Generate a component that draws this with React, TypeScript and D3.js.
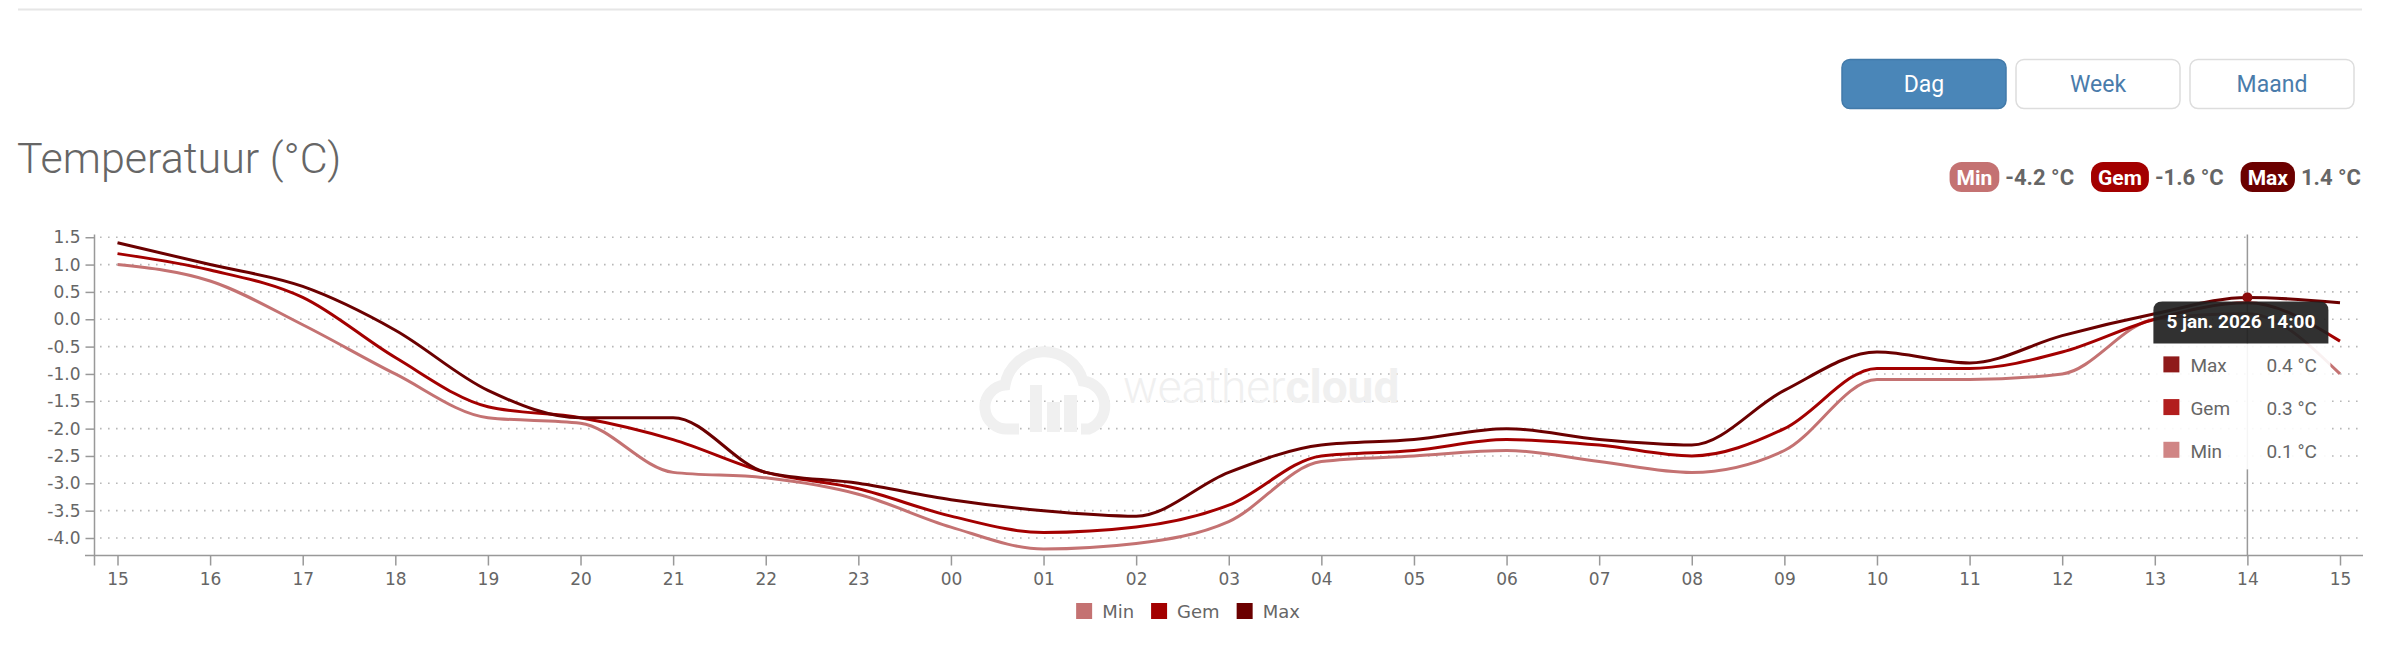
import React, { useEffect, useRef } from "react";
import * as d3 from "d3";

// hourly readings, 4 jan 15:00 -> 5 jan 15:00
const hourLabels = ["15", "16", "17", "18", "19", "20", "21", "22", "23", "00", "01", "02", "03", "04", "05", "06", "07", "08", "09", "10", "11", "12", "13", "14", "15"];
const minValues = [1.0, 0.7, -0.1, -1.0, -1.8, -1.9, -2.8, -2.9, -3.2, -3.8, -4.2, -4.1, -3.7, -2.6, -2.5, -2.4, -2.6, -2.8, -2.4, -1.1, -1.1, -1.0, 0.0, 0.1, -1.0];
const gemValues = [1.2, 0.9, 0.4, -0.7, -1.6, -1.8, -2.2, -2.8, -3.1, -3.6, -3.9, -3.8, -3.4, -2.5, -2.4, -2.2, -2.3, -2.5, -2.0, -0.9, -0.9, -0.6, 0.0, 0.3, -0.4];
const maxValues = [1.4, 1.0, 0.6, -0.2, -1.3, -1.8, -1.8, -2.8, -3.0, -3.3, -3.5, -3.6, -2.8, -2.3, -2.2, -2.0, -2.2, -2.3, -1.3, -0.6, -0.8, -0.3, 0.1, 0.4, 0.3];
const yTicks = [1.5, 1.0, 0.5, 0.0, -0.5, -1.0, -1.5, -2.0, -2.5, -3.0, -3.5, -4.0];

const seriesNames = ["Min", "Gem", "Max"];
const seriesColors = ["#c47272", "#a30000", "#6b0000"];
const tooltipColors = ["#d08585", "#b21e1e", "#8f1a1a"];
const summaryValues = [-4.2, -1.6, 1.4];
const rangeButtons = ["Dag", "Week", "Maand"];
const hoverIndex = 23;
const hoverLabel = "5 jan. 2026 14:00";

function TemperatuurChart() {
  const ref = useRef<SVGSVGElement>(null);

  useEffect(() => {
    const width = 2400;
    const height = 667;
    const plot = { left: 95, right: 2363, top: 234.5, bottom: 555.5 };
    const series = [minValues, gemValues, maxValues];

    const svg = d3.select(ref.current);
    svg.selectAll("*").remove();
    svg.attr("width", width).attr("height", height);

    const x = d3.scaleLinear().domain([0, hourLabels.length - 1]).range([117.5, 2340]);
    const y = d3.scaleLinear().domain([-4.32, 1.55]).range([plot.bottom, plot.top]);

    // top separator + title
    svg.append("line")
      .attr("x1", 18).attr("x2", 2362).attr("y1", 9.5).attr("y2", 9.5)
      .attr("stroke", "#e6e6e6").attr("stroke-width", 2);

    svg.append("text")
      .attr("x", 17).attr("y", 173)
      .attr("font-family", "Roboto").attr("font-weight", 300).attr("font-size", 43)
      .attr("fill", "#666")
      .text("Temperatuur (°C)");

    // Dag / Week / Maand buttons
    const btnX = [1842, 2016, 2190];
    rangeButtons.forEach((label, i) => {
      const active = i === 0;
      svg.append("rect")
        .attr("x", btnX[i]).attr("y", 59.5).attr("width", 164).attr("height", 49).attr("rx", 8)
        .attr("fill", active ? "#4a86b8" : "#fff")
        .attr("stroke", active ? "#427aa9" : "#dddddd").attr("stroke-width", 1.5);
      svg.append("text")
        .attr("x", btnX[i] + 82).attr("y", 92)
        .attr("text-anchor", "middle")
        .attr("font-family", "Roboto").attr("font-size", 23)
        .attr("fill", active ? "#fff" : "#4a7cab")
        .text(label);
    });

    // summary badges, laid out right to left
    let cursor = 2361;
    for (let i = seriesNames.length - 1; i >= 0; i--) {
      const val = svg.append("text")
        .attr("x", cursor).attr("y", 185)
        .attr("text-anchor", "end")
        .attr("font-family", "Roboto").attr("font-weight", 700).attr("font-size", 22)
        .attr("fill", "#666")
        .text(`${summaryValues[i].toFixed(1)} °C`);
      cursor -= (val.node() as SVGTextElement).getComputedTextLength() + 6;
      const g = svg.append("g");
      const rect = g.append("rect").attr("y", 162).attr("height", 30).attr("rx", 12).attr("fill", seriesColors[i]);
      const lbl = g.append("text")
        .attr("y", 184.5)
        .attr("text-anchor", "middle")
        .attr("font-family", "Roboto").attr("font-weight", 700).attr("font-size", 21)
        .attr("fill", "#fff")
        .text(seriesNames[i]);
      const bw = (lbl.node() as SVGTextElement).getComputedTextLength() + 14;
      rect.attr("x", cursor - bw).attr("width", bw);
      lbl.attr("x", cursor - bw / 2);
      cursor -= bw + 17;
    }

    // grid
    svg.append("g")
      .selectAll("line")
      .data(yTicks)
      .enter()
      .append("line")
      .attr("x1", 100).attr("x2", plot.right)
      .attr("y1", d => y(d)).attr("y2", d => y(d))
      .attr("stroke", "#b8b8b8").attr("stroke-width", 1.6)
      .attr("stroke-dasharray", "1.6,6.4");

    // watermark
    const wm = svg.append("g").attr("transform", "translate(985,345)").attr("fill", "#f0f0f0");
    wm.append("path")
      .attr("d", "M 34 84 L 24 84 A 22 22 0 0 1 20 40 A 40 40 0 0 1 98 36 A 25 25 0 0 1 104 84 L 96 84")
      .attr("fill", "none").attr("stroke", "#f0f0f0").attr("stroke-width", 11);
    wm.append("rect").attr("x", 45).attr("y", 40).attr("width", 12).attr("height", 47);
    wm.append("rect").attr("x", 62).attr("y", 57).attr("width", 13).attr("height", 30);
    wm.append("rect").attr("x", 79).attr("y", 50).attr("width", 13).attr("height", 37);
    const wt = svg.append("text")
      .attr("x", 1123).attr("y", 403)
      .attr("font-family", "Roboto").attr("font-size", 46).attr("fill", "#f0f0f0");
    wt.append("tspan").attr("font-weight", 300).text("weather");
    wt.append("tspan").attr("font-weight", 700).text("cloud");

    // axes
    const yAxis = svg.append("g")
      .attr("transform", `translate(${plot.left - 0.5},0)`)
      .call(d3.axisLeft(y).tickValues(yTicks).tickSize(9).tickPadding(5).tickFormat(d => (d as number).toFixed(1)))
      .attr("font-family", "DejaVu Sans").attr("font-size", 17);
    yAxis.select(".domain").remove();
    yAxis.selectAll("line").attr("stroke", "#999").attr("stroke-width", 1.5);
    yAxis.selectAll("text").attr("fill", "#666");

    const xAxis = svg.append("g")
      .attr("transform", `translate(0,${plot.bottom})`)
      .call(d3.axisBottom(x).tickValues(d3.range(hourLabels.length)).tickSize(10).tickPadding(7.5).tickFormat(i => hourLabels[i as number]))
      .attr("font-family", "DejaVu Sans").attr("font-size", 17);
    xAxis.select(".domain").remove();
    xAxis.selectAll("line").attr("stroke", "#999").attr("stroke-width", 1.5);
    xAxis.selectAll("text").attr("fill", "#666");

    svg.append("line")
      .attr("x1", plot.left - 0.5).attr("x2", plot.left - 0.5).attr("y1", plot.top).attr("y2", plot.bottom + 10)
      .attr("stroke", "#999").attr("stroke-width", 1.5);
    svg.append("line")
      .attr("x1", 85).attr("x2", plot.right).attr("y1", plot.bottom).attr("y2", plot.bottom)
      .attr("stroke", "#999").attr("stroke-width", 1.5);

    // crosshair
    const cx = x(hoverIndex);
    svg.append("line")
      .attr("x1", cx).attr("x2", cx).attr("y1", plot.top).attr("y2", plot.bottom)
      .attr("stroke", "#999").attr("stroke-width", 1.5);

    // series
    const line = d3.line<number>()
      .x((d, i) => x(i))
      .y(d => y(d))
      .curve(d3.curveMonotoneX);

    svg.append("g")
      .selectAll("path")
      .data(series)
      .enter()
      .append("path")
      .attr("d", d => line(d))
      .attr("fill", "none")
      .attr("stroke", (d, i) => seriesColors[i])
      .attr("stroke-width", 3)
      .attr("stroke-linejoin", "round");

    svg.append("circle")
      .attr("cx", cx).attr("cy", y(maxValues[hoverIndex]))
      .attr("r", 5).attr("fill", "#8b0a0a");

    // tooltip
    const tipTop = y(maxValues[hoverIndex]) + 4;
    const tipLeft = cx - 94;
    const tipW = 175;
    const headH = 42;
    const tip = svg.append("g");
    tip.append("rect")
      .attr("x", tipLeft - 3).attr("y", tipTop + headH).attr("width", tipW + 5).attr("height", 126)
      .attr("fill", "#fff").attr("fill-opacity", 0.9);
    const r = 9;
    tip.append("path")
      .attr("d", `M ${tipLeft} ${tipTop + headH} V ${tipTop + r} Q ${tipLeft} ${tipTop} ${tipLeft + r} ${tipTop} H ${tipLeft + tipW - r} Q ${tipLeft + tipW} ${tipTop} ${tipLeft + tipW} ${tipTop + r} V ${tipTop + headH} Z`)
      .attr("fill", "#1f1f1f").attr("fill-opacity", 0.92);
    tip.append("text")
      .attr("x", tipLeft + tipW / 2).attr("y", tipTop + 27)
      .attr("text-anchor", "middle")
      .attr("font-family", "Roboto").attr("font-weight", 700).attr("font-size", 19)
      .attr("fill", "#fff")
      .text(hoverLabel);

    const rows = [2, 1, 0];
    rows.forEach((si, k) => {
      const rowY = tipTop + 55 + k * 42.7;
      tip.append("rect")
        .attr("x", tipLeft + 10).attr("y", rowY).attr("width", 16).attr("height", 16)
        .attr("fill", tooltipColors[si]);
      tip.append("text")
        .attr("x", tipLeft + 37).attr("y", rowY + 16)
        .attr("font-family", "Roboto").attr("font-size", 19).attr("fill", "#666")
        .text(seriesNames[si]);
      tip.append("text")
        .attr("x", tipLeft + 113).attr("y", rowY + 16)
        .attr("font-family", "Roboto").attr("font-size", 19).attr("fill", "#666")
        .text(`${series[si][hoverIndex].toFixed(1)} °C`);
    });

    // legend, centred under the chart
    const legend = svg.append("g");
    let lx = 0;
    seriesNames.forEach((name, i) => {
      legend.append("rect")
        .attr("x", lx).attr("y", 603).attr("width", 16).attr("height", 16)
        .attr("fill", seriesColors[i]);
      const t = legend.append("text")
        .attr("x", lx + 26).attr("y", 618)
        .attr("font-family", "DejaVu Sans").attr("font-size", 18).attr("fill", "#666")
        .text(name);
      lx += 26 + (t.node() as SVGTextElement).getComputedTextLength() + 17;
    });
    const legendW = lx - 17;
    legend.attr("transform", `translate(${1188 - legendW / 2},0)`);

    svg.node();
  }, []);

  return (
    <svg ref={ref} style={{ position: "absolute", left: 0, top: 0, background: "#fff" }} />
  );
}

export default function App() {
  return <TemperatuurChart />;
}
